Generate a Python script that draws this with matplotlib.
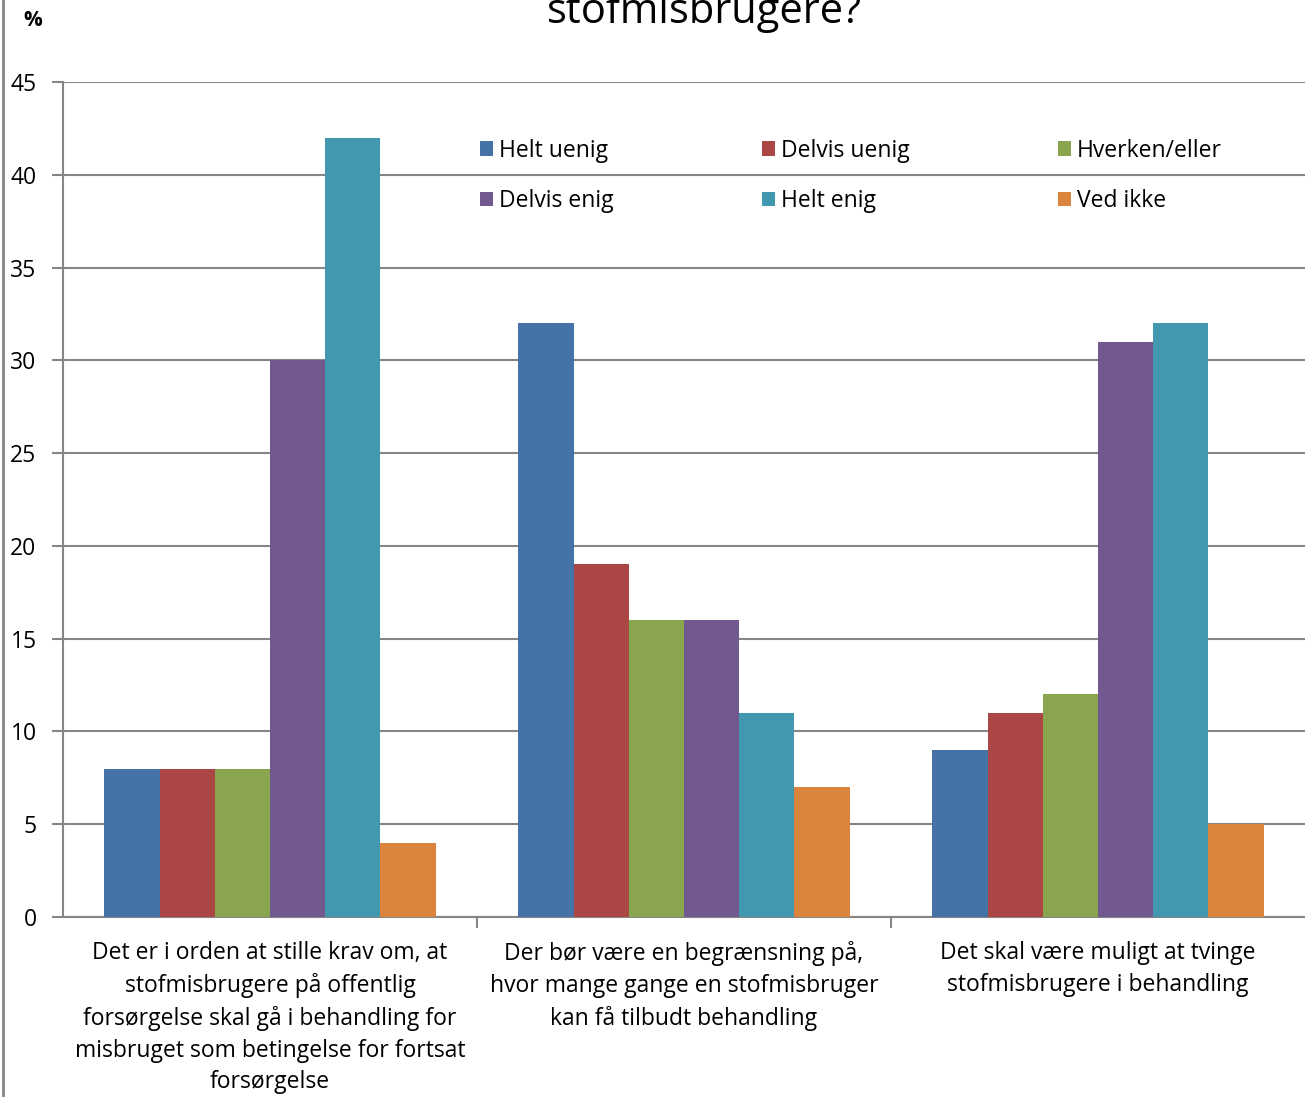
import numpy as np
import matplotlib.pyplot as plt
from matplotlib.lines import Line2D

plt.rcParams['font.family'] = ['Open Sans', 'DejaVu Sans']

# data
categories = [
    "Det er i orden at stille krav om, at\nstofmisbrugere på offentlig\nforsørgelse skal gå i behandling for\nmisbruget som betingelse for fortsat\nforsørgelse",
    "Der bør være en begrænsning på,\nhvor mange gange en stofmisbruger\nkan få tilbudt behandling",
    "Det skal være muligt at tvinge\nstofmisbrugere i behandling",
]
series_names = ["Helt uenig", "Delvis uenig", "Hverken/eller", "Delvis enig", "Helt enig", "Ved ikke"]
helt_uenig = [8, 32, 9]
delvis_uenig = [8, 19, 11]
hverken_eller = [8, 16, 12]
delvis_enig = [30, 16, 31]
helt_enig = [42, 11, 32]
ved_ikke = [4, 7, 5]
values = [helt_uenig, delvis_uenig, hverken_eller, delvis_enig, helt_enig, ved_ikke]
colors = ["#4572A7", "#AA4643", "#89A54E", "#71588F", "#4198AF", "#DB843D"]

W, H = 1305, 1097
fig = plt.figure(figsize=(W / 100, H / 100), dpi=100)
ax = fig.add_axes([63 / W, 180 / H, (W - 63) / W, 835 / H])

x = np.arange(len(categories))
bw = 0.8 / len(values)
bars = []
for i, (vals, c) in enumerate(zip(values, colors)):
    b = ax.bar(x - 0.4 + bw * (i + 0.5), vals, width=bw, color=c, zorder=3, label=series_names[i])
    bars.append(b)

ax.set_xlim(-0.5, 2.5)
ax.set_ylim(0, 45)
ax.set_yticks(range(0, 46, 5))
ax.yaxis.grid(True, color="#868686", linewidth=1.5, zorder=0)
ax.tick_params(axis='y', length=8, width=1.5, color="#868686", labelsize=16.5, pad=11)
ax.set_xticks([0.5, 1.5])
ax.set_xticklabels([])
ax.tick_params(axis='x', length=8, width=1.5, color="#868686", direction='out')
for s in ['top', 'right']:
    ax.spines[s].set_visible(False)
for s in ['left', 'bottom']:
    ax.spines[s].set_color("#868686")
    ax.spines[s].set_linewidth(1.5)

for xi, lab in zip(x, categories):
    ax.text(xi, -1.3, lab, ha='center', va='top', fontsize=16.5, linespacing=1.42)

# legend, filled row by row
order = [0, 3, 1, 4, 2, 5]
handles = [bars[i] for i in order]
labels = [series_names[i] for i in order]
ax.legend(handles, labels, ncol=3, frameon=False, fontsize=16.5,
          loc='upper left', bbox_to_anchor=(396 / (W - 63), 0.957),
          handlelength=0.6, handleheight=0.6, handletextpad=0.25,
          columnspacing=6.45, labelspacing=1.15)

fig.text(33 / W, 1 - 20 / H, "%", ha='center', va='center', fontsize=15, fontweight='bold')
fig.text(704 / W, 1 - 23 / H, "stofmisbrugere?", ha='center', va='baseline', fontsize=30)
fig.add_artist(Line2D([3 / W, 3 / W], [0, 1], color="#868686", linewidth=2))

fig.savefig("out.png", dpi=100)
